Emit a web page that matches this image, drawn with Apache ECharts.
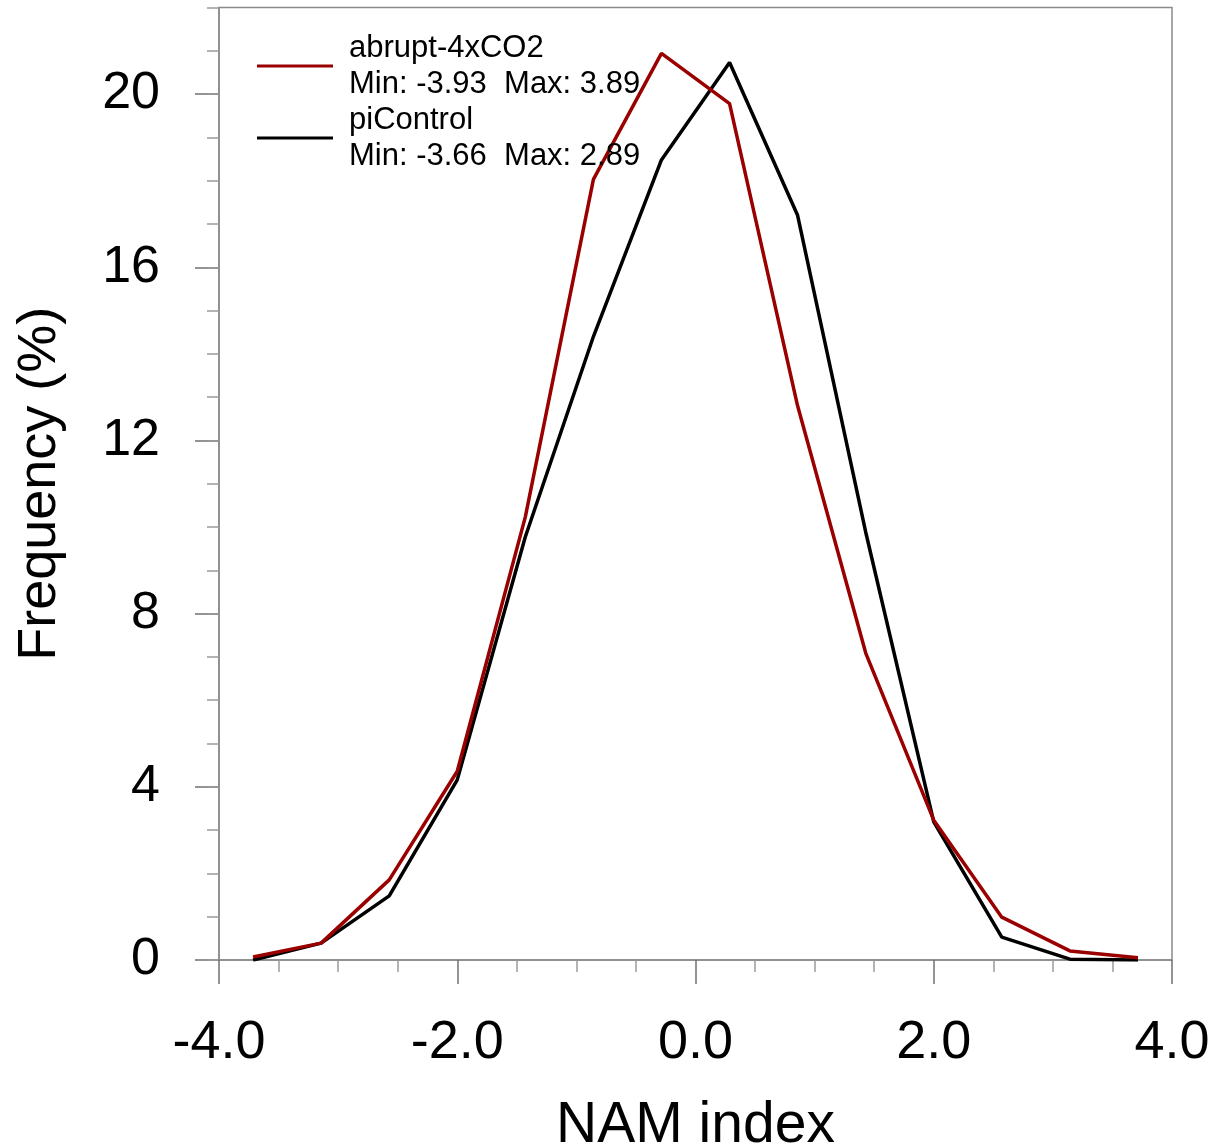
<!DOCTYPE html>
<html>
<head>
<meta charset="utf-8">
<script src="https://cdn.jsdelivr.net/npm/echarts@6/dist/echarts.min.js"></script>
<style>
html,body{margin:0;padding:0;background:#fff;}
#chart{width:1212px;height:1146px;}
</style>
</head>
<body>
<div id="chart"></div>
<script>
// Bin centres of the NAM index histogram
const binCenters = [-3.714, -3.143, -2.571, -2.0, -1.429, -0.857, -0.286, 0.286, 0.857, 1.429, 2.0, 2.571, 3.143, 3.714];
// Frequency (%) per bin
const abruptValues = [0.07, 0.39, 1.85, 4.36, 10.23, 18.03, 20.94, 19.78, 12.8, 7.09, 3.23, 0.99, 0.21, 0.05];
const piControlValues = [0.0, 0.39, 1.48, 4.16, 9.77, 14.4, 18.48, 20.73, 17.2, 9.88, 3.19, 0.53, 0.02, 0.0];
const seriesNames = ['abrupt-4xCO2', 'piControl'];
const seriesStats = ['Min: -3.93  Max: 3.89', 'Min: -3.66  Max: 2.89'];
const yMajorTicks = [0, 4, 8, 12, 16, 20];
const xTickLabels = ['-4.0', '-2.0', '0.0', '2.0', '4.0'];

const FONT = "'Liberation Sans', Arial, Helvetica, sans-serif";
const RED = '#9a0000';

function pairs(xs, ys) { return xs.map((x, i) => [x, ys[i]]); }

const chart = echarts.init(document.getElementById('chart'), null, {renderer: 'canvas'});
const option = {
  animation: false,
  backgroundColor: '#fff',
  textStyle: {fontFamily: FONT},
  grid: {left: 219, right: 40, top: 7.5, bottom: 186, show: true, borderColor: '#8a8a8a', borderWidth: 1.5,
         containLabel: false, outerBoundsMode: 'none'},
  legend: {
    data: seriesNames.map(n => ({name: n, icon: 'rect'})),
    orient: 'vertical',
    left: 257, top: 30,
    padding: 0,
    itemGap: 0,
    itemWidth: 76,
    itemHeight: 3,
    selectedMode: false,
    formatter: function (name) { return name + '\n' + seriesStats[seriesNames.indexOf(name)]; },
    textStyle: {fontFamily: FONT, fontSize: 31, lineHeight: 36, color: '#000', padding: [0, 0, 0, 11]}
  },
  xAxis: {
    type: 'value', min: -4, max: 4, interval: 2,
    name: 'NAM index', nameLocation: 'middle', nameGap: 138,
    nameTextStyle: {fontFamily: FONT, fontSize: 57, color: '#000'},
    axisLine: {show: true, onZero: false, lineStyle: {color: '#8a8a8a', width: 1.5}},
    axisTick: {show: true, inside: false, length: 24, lineStyle: {color: '#707070', width: 1.5}},
    minorTick: {show: true, splitNumber: 4, length: 12, lineStyle: {color: '#9a9a9a', width: 1.5}},
    splitLine: {show: false},
    minorSplitLine: {show: false},
    axisLabel: {fontFamily: FONT, fontSize: 54, color: '#000', margin: 56,
      formatter: function (v) { return xTickLabels[Math.round((v + 4) / 2)]; }}
  },
  yAxis: [{
    type: 'value', min: 0, max: 22, interval: 1, position: 'left',
    name: 'Frequency (%)', nameLocation: 'middle', nameGap: 152, nameRotate: 90,
    nameTextStyle: {fontFamily: FONT, fontSize: 54, color: '#000'},
    axisLine: {show: true, onZero: false, lineStyle: {color: '#8a8a8a', width: 1.5}},
    axisTick: {show: true, length: 24, customValues: yMajorTicks, lineStyle: {color: '#707070', width: 1.5}},
    splitLine: {show: false},
    axisLabel: {fontFamily: FONT, fontSize: 52, color: '#000', margin: 59, customValues: yMajorTicks}
  }, {
    type: 'value', min: 0, max: 22, interval: 1, position: 'left', offset: 0,
    axisLine: {show: false, onZero: false},
    axisTick: {show: true, length: 12, lineStyle: {color: '#9a9a9a', width: 1.5}},
    splitLine: {show: false},
    axisLabel: {show: false}
  }],
  series: [{
    name: 'piControl', type: 'line', yAxisIndex: 0,
    data: pairs(binCenters, piControlValues),
    symbol: 'none', color: '#000', z: 2,
    lineStyle: {color: '#000', width: 3.5}
  }, {
    name: 'abrupt-4xCO2', type: 'line', yAxisIndex: 0,
    data: pairs(binCenters, abruptValues),
    symbol: 'none', color: RED, z: 3,
    lineStyle: {color: RED, width: 3.5}
  }]
};
chart.setOption(option);
</script>
</body>
</html>
